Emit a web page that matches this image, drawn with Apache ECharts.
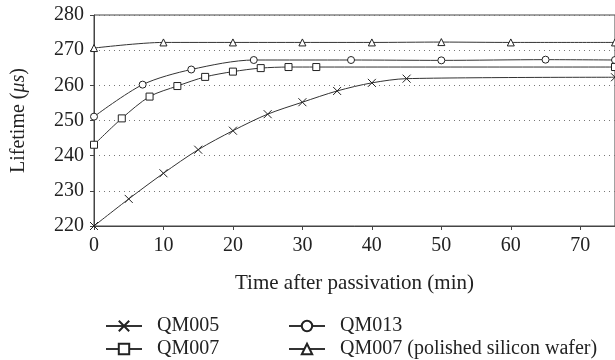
<!DOCTYPE html>
<html lang="en">
<head>
    <meta charset="UTF-8">
    <title>Lifetime vs time after passivation</title>
    <script src="https://cdn.jsdelivr.net/npm/echarts@6.0.0/dist/echarts.min.js"></script>
    <style>
        html, body, #chart {
            width: 100%;
            height: 100%;
            margin: 0;
            padding: 0;
            background: #fff;
        }
        body { overflow: hidden; }
    </style>
</head>
<body>
    <div id="chart"></div>
    <script>
        // 读图得到的数据 (time in min, lifetime in µs)
        const qm005 = [[0, 220.0], [5, 227.7], [10, 235.0], [15, 241.7], [20, 247.1], [25, 251.8],
                       [30, 255.2], [35, 258.4], [40, 260.7], [45, 261.9], [75, 262.3]];
        const qm007 = [[0, 243.1], [4, 250.6], [8, 256.8], [12, 259.8], [16, 262.4], [20, 263.9],
                       [24, 264.9], [28, 265.2], [32, 265.2], [75, 265.2]];
        const qm013 = [[0, 251.1], [7, 260.2], [14, 264.5], [23, 267.2], [37, 267.2], [50, 267.1],
                       [65, 267.3], [75, 267.2]];
        const qm007Polished = [[0, 270.6], [10, 272.2], [20, 272.2], [30, 272.2], [40, 272.2],
                               [50, 272.3], [60, 272.2], [75, 272.2]];

        const seriesNames = ['QM005', 'QM007', 'QM013', 'QM007 (polished silicon wafer)'];
        const xTitle = 'Time after passivation (min)';

        const font = '"Liberation Serif", "DejaVu Serif", serif';
        const ink = '#222';
        const crossPath = 'path://M0,0L10,10M10,0L0,10';

        function makeSeries(name, data, symbol, size) {
            return {
                name: name,
                type: 'line',
                data: data,
                smooth: 0.3,
                symbol: symbol,
                symbolSize: size,
                showAllSymbol: true,
                clip: false,
                lineStyle: { color: '#333', width: 1 },
                itemStyle: { color: '#fff', borderColor: '#222', borderWidth: 1 },
                emphasis: { disabled: true }
            };
        }

        // one legend per entry, laid out as 2 x 2
        function makeLegend(name, left, top) {
            return {
                data: [name],
                left: left,
                top: top,
                itemWidth: 36,
                itemHeight: 13,
                selectedMode: false,
                textStyle: { fontFamily: font, fontSize: 20, color: ink, padding: [0, 0, 0, 10] }
            };
        }

        var chart = echarts.init(document.getElementById('chart'));

        var option = {
            animation: false,
            grid: {
                left: 94, right: -2, top: 15, bottom: 134,
                show: true, borderColor: '#444', borderWidth: 1
            },
            legend: [
                makeLegend(seriesNames[0], 100, 311),
                makeLegend(seriesNames[1], 100, 334),
                makeLegend(seriesNames[2], 283, 311),
                makeLegend(seriesNames[3], 283, 334)
            ],
            xAxis: {
                type: 'value',
                min: 0, max: 75, interval: 10,
                name: xTitle,
                nameLocation: 'middle',
                nameGap: 47,
                nameTextStyle: { fontFamily: font, fontSize: 21, color: ink },
                axisLine: { lineStyle: { color: '#444' } },
                axisTick: { show: true, length: 4, lineStyle: { color: '#444' } },
                axisLabel: { fontFamily: font, fontSize: 20, color: ink, margin: 10,
                    showMaxLabel: false },
                splitLine: { show: false }
            },
            yAxis: {
                type: 'value',
                min: 220, max: 280, interval: 10,
                name: '{n|Lifetime (}{i|μs}{n|)}',
                nameLocation: 'middle',
                nameGap: 65,
                nameTextStyle: {
                    rich: {
                        n: { fontFamily: font, fontSize: 20, color: ink },
                        i: { fontFamily: font, fontSize: 20, color: ink, fontStyle: 'italic' }
                    }
                },
                axisLine: { show: true, lineStyle: { color: '#444' } },
                axisTick: { show: true, length: 4, lineStyle: { color: '#444' } },
                axisLabel: { fontFamily: font, fontSize: 20, color: ink, margin: 10 },
                splitLine: { show: true, lineStyle: { color: '#777', type: [1, 4], width: 1 } }
            },
            series: [
                makeSeries(seriesNames[0], qm005, crossPath, 8),
                makeSeries(seriesNames[1], qm007, 'rect', 7),
                makeSeries(seriesNames[2], qm013, 'circle', 7),
                makeSeries(seriesNames[3], qm007Polished, 'triangle', 7)
            ]
        };

        chart.setOption(option);
        window.addEventListener('resize', function () { chart.resize(); });
    </script>
</body>
</html>
